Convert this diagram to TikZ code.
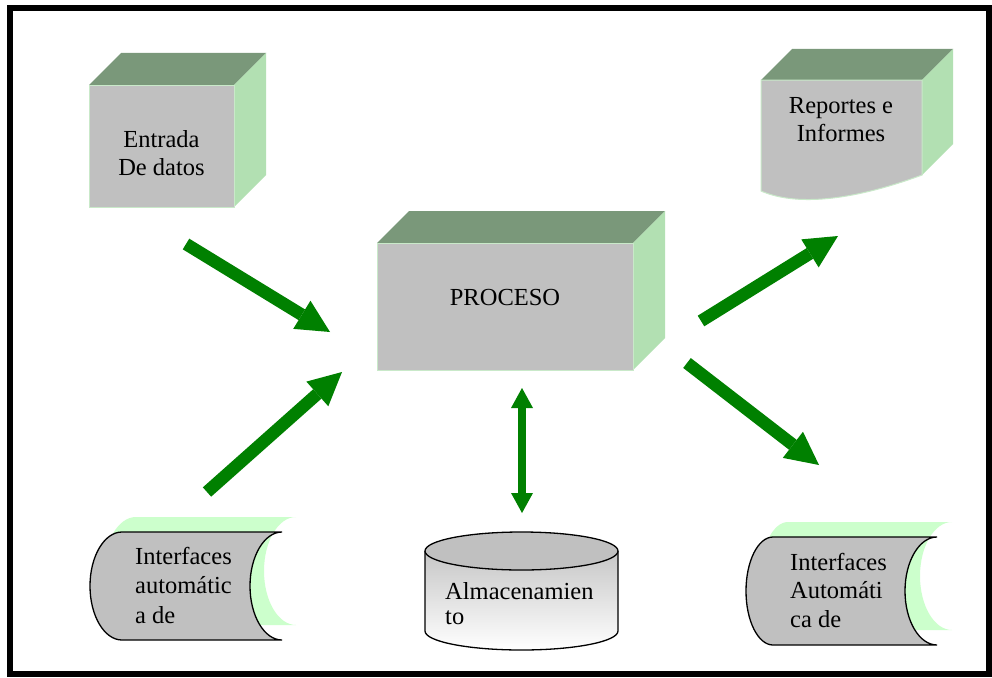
\documentclass[tikz,border=0pt]{standalone}
\usepackage{fontspec}
\setmainfont{Liberation Serif}
\usetikzlibrary{arrows.meta}
\definecolor{topgreen}{HTML}{7A987A}
\definecolor{sidegreen}{HTML}{B2E0B2}
\definecolor{facegray}{HTML}{C0C0C0}
\definecolor{shadowgreen}{HTML}{CCFFCC}
\definecolor{arrowgreen}{HTML}{008000}
\newcommand\storedpath[2]{(0,0) -- (#1,0) .. controls (#1-17.7,0) and (#1-32,24.2) .. (#1-32,54) .. controls (#1-32,83.8) and (#1-17.7,108) .. (#1,108) -- (0,108) .. controls (-0.5523*#2,108) and (-#2,83.8) .. (-#2,54) .. controls (-#2,24.2) and (-0.5523*#2,0) .. (0,0) -- cycle}
\newcommand\cubeshape[5]{%
  \fill[topface] (#1,#2) -- (#1+#5,#2-#5) -- (#3+#5,#2-#5) -- (#3,#2) -- cycle;
  \fill[sideface] (#3,#2) -- (#3+#5,#2-#5) -- (#3+#5,#4-#5) -- (#3,#4) -- cycle;
  \filldraw[frontface] (#1,#2) rectangle (#3,#4);}
\begin{document}
\begin{tikzpicture}[x=1pt,y=-1pt,
  topface/.style={fill=topgreen},
  sideface/.style={fill=sidegreen},
  frontface/.style={fill=facegray,draw=sidegreen!70!white,line width=1pt},
  lbl/.style={inner sep=0pt,font=\fontsize{24.5}{28}\selectfont},
  bigarrow/.style={draw=arrowgreen,line width=12.5pt,-{Triangle[length=33pt,width=33pt,line width=0pt]}},
  dblarrow/.style={draw=arrowgreen,line width=8pt,{Triangle[length=20pt,width=22pt,line width=0pt]}-{Triangle[length=20pt,width=22pt,line width=0pt]}},
  outline/.style={draw=black,line width=1.3pt}
]
\useasboundingbox (0,0) rectangle (992,677);
\fill[white] (0,0) rectangle (992,677);
\draw[line width=6pt] (10,8) rectangle (989,674);

% Entrada cube
\cubeshape{89}{85}{234}{207}{32}
\node[lbl,align=center] (entrada) at (161.5,153) {Entrada\\De datos};

% Proceso cube
\cubeshape{377}{243}{633}{370}{32}
\node[lbl] (proceso) at (505,298) {PROCESO};

% Reportes document cube
\fill[topface] (761,80) -- (792,49) -- (953,49) -- (922,80) -- cycle;
\fill[sideface] (922,80) -- (953,49) -- (953,144) -- (922,175) -- cycle;
\filldraw[frontface] (761,80) -- (922,80) -- (922,175) .. controls (860,198) and (800,208) .. (761,191) -- cycle;
\node[lbl,align=center] (reportes) at (841,120) {Reportes e\\Informes};

% Left interfaces
\begin{scope}[shift={(136,517)}]
  \fill[shadowgreen] \storedpath{160}{32};
\end{scope}
\begin{scope}[shift={(122,532)}]
  \filldraw[fill=facegray,outline] \storedpath{160}{32};
\end{scope}
\node[lbl,align=left,anchor=north west,font=\fontsize{24.5}{29.5}\selectfont] (ifaceL) at (135,547) {Interfaces\\automátic\\a de};

% Right interfaces
\begin{scope}[shift={(788,522)}]
  \fill[shadowgreen] \storedpath{164}{27};
\end{scope}
\begin{scope}[shift={(773,537)}]
  \filldraw[fill=facegray,outline] \storedpath{164}{27};
\end{scope}
\node[lbl,align=left,anchor=north west,font=\fontsize{24.5}{28.5}\selectfont] (ifaceR) at (790,553) {Interfaces\\Automáti\\ca de};

% Storage cylinder
\shade[top color=facegray!90!white,bottom color=white] (425,551) -- (425,631) .. controls (425,641.5) and (468.2,650) .. (521.5,650) .. controls (574.8,650) and (618,641.5) .. (618,631) -- (618,551) -- cycle;
\draw[outline] (425,551) -- (425,631) .. controls (425,641.5) and (468.2,650) .. (521.5,650) .. controls (574.8,650) and (618,641.5) .. (618,631) -- (618,551);
\filldraw[fill=facegray,outline] (521.5,551) ellipse [x radius=96.5pt, y radius=19pt];
\node[lbl,align=left,anchor=north west,font=\fontsize{24.5}{25}\selectfont] (almac) at (445,582) {Almacenamien\\to};

% Arrows
\coordinate (a1s) at (186,244);
\coordinate (a1e) at (330,332);
\coordinate (a2s) at (207,492);
\coordinate (a2e) at (342,372);
\coordinate (a3s) at (701,321);
\coordinate (a3e) at (838,236);
\coordinate (a4s) at (687,363);
\coordinate (a4e) at (819,465);
\coordinate (a5s) at (522,388);
\coordinate (a5e) at (522,513);
\draw[bigarrow] (a1s) -- (a1e);
\draw[bigarrow] (a2s) -- (a2e);
\draw[bigarrow] (a3s) -- (a3e);
\draw[bigarrow] (a4s) -- (a4e);
\draw[dblarrow] (a5s) -- (a5e);
\end{tikzpicture}
\end{document}
